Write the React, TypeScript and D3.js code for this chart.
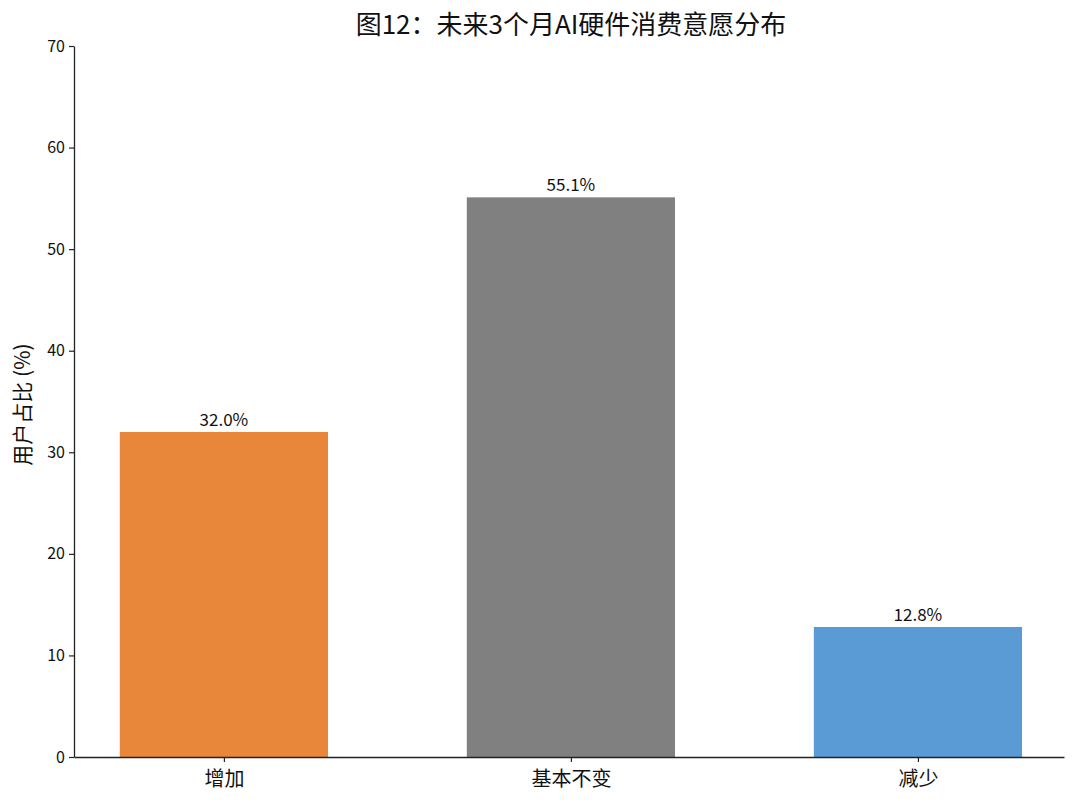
import React, { useRef, useEffect } from 'react';
import { select, scaleLinear, axisBottom, axisLeft, range } from 'd3';

const categories = ['增加', '基本不变', '减少'];
const shares = [32.0, 55.1, 12.8];
const barColors = ['#E8863A', '#808080', '#5B9BD5'];
const yTicks = [0, 10, 20, 30, 40, 50, 60, 70];

const dims = {
  width: 1080,
  height: 806,
  left: 74,
  right: 1064,
  top: 46,
  bottom: 757,
};

const FONT = '"Noto Sans CJK SC", "DejaVu Sans", sans-serif';

const App = () => {
  const svgRef = useRef<SVGSVGElement>(null);

  useEffect(() => {
    const svg = select(svgRef.current);
    svg.selectAll('*').remove();

    const barWidth = 0.6;
    const xScale = scaleLinear()
      .domain([-0.432, categories.length - 1 + 0.421])
      .range([dims.left, dims.right]);
    const yScale = scaleLinear().domain([0, 70]).range([dims.bottom, dims.top]);

    // bars
    svg
      .append('g')
      .selectAll('rect')
      .data(shares)
      .join('rect')
      .attr('x', (_, i) => xScale(i - barWidth / 2))
      .attr('width', (_, i) => xScale(i + barWidth / 2) - xScale(i - barWidth / 2))
      .attr('y', (d) => yScale(d))
      .attr('height', (d) => yScale(0) - yScale(d))
      .attr('fill', (_, i) => barColors[i]);

    // value labels
    svg
      .append('g')
      .selectAll('text')
      .data(shares)
      .join('text')
      .attr('x', (_, i) => xScale(i))
      .attr('y', (d) => yScale(d) - 6)
      .attr('text-anchor', 'middle')
      .style('font-family', FONT)
      .style('font-size', '17px')
      .attr('fill', '#111')
      .text((d) => `${d.toFixed(1)}%`);

    // x axis
    const xAxis = axisBottom(xScale)
      .tickValues(range(categories.length))
      .tickFormat((d) => categories[d as number])
      .tickSize(5)
      .tickSizeOuter(0);
    const xg = svg
      .append('g')
      .attr('transform', `translate(0,${dims.bottom})`)
      .call(xAxis);
    xg.select('.domain').attr('stroke', '#222').attr('stroke-width', 1.3);
    xg.selectAll('.tick line').attr('stroke', '#222').attr('stroke-width', 1.2);
    xg.selectAll('.tick text')
      .style('font-family', FONT)
      .style('font-size', '20px')
      .attr('fill', '#111')
      .attr('dy', '1.05em');

    // y axis
    const yAxis = axisLeft(yScale)
      .tickValues(yTicks)
      .tickSize(5)
      .tickSizeOuter(0);
    const yg = svg
      .append('g')
      .attr('transform', `translate(${dims.left},0)`)
      .call(yAxis);
    yg.select('.domain').attr('stroke', '#222').attr('stroke-width', 1.3);
    yg.selectAll('.tick line').attr('stroke', '#222').attr('stroke-width', 1.2);
    yg.selectAll('.tick text')
      .style('font-family', FONT)
      .style('font-size', '16px')
      .attr('fill', '#111')
      .attr('x', -9);

    // y label
    svg
      .append('text')
      .attr('transform', `translate(30,${(dims.top + dims.bottom) / 2 + 3}) rotate(-90)`)
      .attr('text-anchor', 'middle')
      .style('font-family', FONT)
      .style('font-size', '21px')
      .attr('fill', '#111')
      .text('用户占比 (%)');

    // title
    svg
      .append('text')
      .attr('x', (dims.left + dims.right) / 2 + 2)
      .attr('y', 34)
      .attr('text-anchor', 'middle')
      .style('font-family', FONT)
      .style('font-size', '26px')
      .attr('fill', '#111')
      .text('图12：未来3个月AI硬件消费意愿分布');
  }, []);

  return (
    <svg
      ref={svgRef}
      width={dims.width}
      height={dims.height}
      style={{ position: 'absolute', left: 0, top: 0, background: '#fff' }}
    ></svg>
  );
};

export default App;
